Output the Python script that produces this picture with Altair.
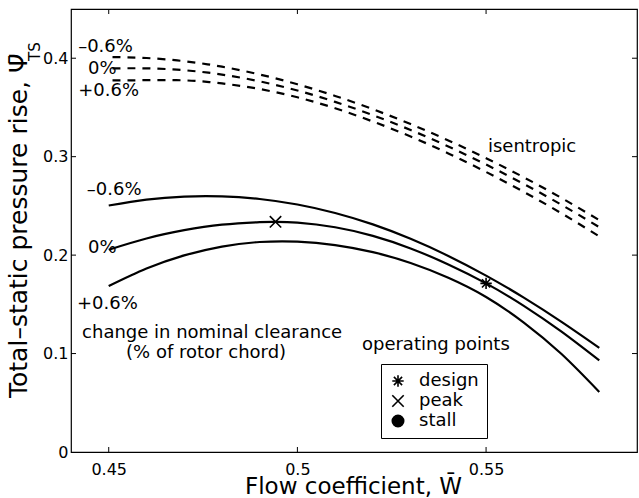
import altair as alt
import pandas as pd

FONT = "DejaVu Sans"

# Total-static pressure rise characteristics for three clearance changes
phi = [0.45, 0.46, 0.47, 0.48, 0.49, 0.50, 0.51, 0.52, 0.53, 0.54, 0.55, 0.56, 0.57, 0.58]
neg_psi = [0.2504, 0.2564, 0.2595, 0.2597, 0.2570, 0.2514, 0.2428, 0.2312, 0.2166, 0.1992,
           0.1792, 0.1568, 0.1322, 0.1058]
pos_psi = [0.1685, 0.1863, 0.1997, 0.2087, 0.2133, 0.2137, 0.2102, 0.2030, 0.1920, 0.1770,
           0.1575, 0.1315, 0.0995, 0.0610]

zero_x = [0.45, 0.46, 0.47, 0.48, 0.49, 0.4942, 0.50, 0.51, 0.52, 0.53, 0.54, 0.55, 0.56, 0.57, 0.58]
zero_psi = [0.2055, 0.2169, 0.2253, 0.2309, 0.2335, 0.2338, 0.2330, 0.2283, 0.2195, 0.2068,
            0.1905, 0.1713, 0.1485, 0.1222, 0.0930]

# Isentropic pressure rise for the same clearance changes
iso_x = [0.451, 0.46, 0.47, 0.48, 0.49, 0.50, 0.51, 0.52, 0.53, 0.54, 0.55, 0.56, 0.57, 0.58]
iso_neg = [0.4012, 0.4002, 0.3970, 0.3914, 0.3835, 0.3735, 0.3617, 0.3482, 0.3331, 0.3165,
           0.2985, 0.2790, 0.2580, 0.2355]
iso_zero = [0.3897, 0.3897, 0.3878, 0.3834, 0.3765, 0.3672, 0.3557, 0.3422, 0.3271, 0.3103,
            0.2920, 0.2723, 0.2511, 0.2284]
iso_pos = [0.3774, 0.3777, 0.3775, 0.3744, 0.3687, 0.3603, 0.3492, 0.3357, 0.3205, 0.3033,
           0.2845, 0.2642, 0.2424, 0.2190]

# Operating points on the nominal-clearance characteristic
op_names = ["design", "peak"]
op_x = [0.55, 0.4942]
op_psi = [0.1713, 0.2338]
op_legend = ["design", "peak", "stall"]

x_ticks = [0.45, 0.5, 0.55]
y_ticks = [0, 0.1, 0.2, 0.3, 0.4]

W, H = 566, 443
X_DOM = [0.44, 0.59]
Y_DOM = [0, 0.45]


def curve_frame(xs, ys, name):
    return pd.DataFrame({"phi": xs, "psi": ys, "curve": name})


solid = pd.concat([
    curve_frame(phi, neg_psi, "-0.6%"),
    curve_frame(zero_x, zero_psi, "0%"),
    curve_frame(phi, pos_psi, "+0.6%"),
])
dashed = pd.concat([
    curve_frame(iso_x, iso_neg, "-0.6%"),
    curve_frame(iso_x, iso_zero, "0%"),
    curve_frame(iso_x, iso_pos, "+0.6%"),
])
ops = pd.DataFrame({"phi": op_x, "psi": op_psi, "op": op_names})

xs = alt.Scale(domain=X_DOM, nice=False, zero=False)
ys = alt.Scale(domain=Y_DOM, nice=False, zero=False)

x_enc = alt.X("phi:Q", scale=xs, title=None,
              axis=alt.Axis(values=x_ticks, format=".2~f", labelPadding=9))
y_enc = alt.Y("psi:Q", scale=ys, title=None,
              axis=alt.Axis(values=y_ticks, format=".1~f", labelPadding=3))

base_lines = alt.Chart(solid).mark_line(
    color="black", strokeWidth=2.2, interpolate="natural"
).encode(x=x_enc, y=y_enc, detail="curve:N")

iso_lines = alt.Chart(dashed).mark_line(
    color="black", strokeWidth=2.2, strokeDash=[8, 7], interpolate="natural"
).encode(x=alt.X("phi:Q", scale=xs), y=alt.Y("psi:Q", scale=ys), detail="curve:N")

ASTERISK = "M0,-1L0,1M-1,0L1,0M-0.72,-0.72L0.72,0.72M-0.72,0.72L0.72,-0.72"
CROSS = "M-1,-1L1,1M-1,1L1,-1"

points = alt.Chart(ops).mark_point(
    color="black", strokeWidth=1.6, size=130, opacity=1
).encode(
    x=alt.X("phi:Q", scale=xs),
    y=alt.Y("psi:Q", scale=ys),
    shape=alt.Shape(
        "op:N",
        scale=alt.Scale(domain=op_legend, range=[ASTERISK, CROSS, "circle"]),
        legend=alt.Legend(
            title=None, orient="none", legendX=310, legendY=355,
            strokeColor="black", fillColor="white", padding=8,
            labelFont=FONT, labelFontSize=18, labelColor="black",
            labelOffset=12, rowPadding=2, symbolSize=130,
            symbolStrokeWidth=1.6, symbolStrokeColor="black",
        ),
    ),
    fill=alt.Fill(
        "op:N",
        scale=alt.Scale(domain=op_legend, range=["transparent", "transparent", "black"]),
    ),
    stroke=alt.Stroke(
        "op:N",
        scale=alt.Scale(domain=op_legend, range=["black", "black", "black"]),
    ),
)

# Inward tick marks on all four sides of the frame
ytk = pd.DataFrame({"v": y_ticks[1:]})
xtk = pd.DataFrame({"v": x_ticks})
tick_left = alt.Chart(ytk).mark_rule(color="black").encode(
    y=alt.Y("v:Q", scale=ys), x=alt.value(0), x2=alt.value(5))
tick_right = alt.Chart(ytk).mark_rule(color="black").encode(
    y=alt.Y("v:Q", scale=ys), x=alt.value(W), x2=alt.value(W - 5))
tick_bottom = alt.Chart(xtk).mark_rule(color="black").encode(
    x=alt.X("v:Q", scale=xs), y=alt.value(H), y2=alt.value(H - 5))
tick_top = alt.Chart(xtk).mark_rule(color="black").encode(
    x=alt.X("v:Q", scale=xs), y=alt.value(0), y2=alt.value(5))

# Curve labels and annotations
notes_left = pd.DataFrame({
    "t": ["\u20130.6%", "0%", "+0.6%", "\u20130.6%", "0%", "+0.6%", "isentropic"],
    "phi": [0.4419, 0.4445, 0.4419, 0.4442, 0.4445, 0.4416, 0.5505],
    "psi": [0.4111, 0.3892, 0.3669, 0.2663, 0.2073, 0.1504, 0.310],
})
notes_center = pd.DataFrame({
    "t": ["change in nominal clearance", "(% of rotor chord)", "operating points"],
    "phi": [0.4774, 0.4758, 0.5367],
    "psi": [0.1209, 0.1006, 0.1087],
})
text_left = alt.Chart(notes_left).mark_text(
    font=FONT, fontSize=18, align="left", baseline="middle", color="black"
).encode(x=alt.X("phi:Q", scale=xs), y=alt.Y("psi:Q", scale=ys), text="t:N")
text_center = alt.Chart(notes_center).mark_text(
    font=FONT, fontSize=18, align="center", baseline="middle", color="black"
).encode(x=alt.X("phi:Q", scale=xs), y=alt.Y("psi:Q", scale=ys), text="t:N")

# Axis titles
y_title = alt.Chart(pd.DataFrame({"t": ["Total\u2013static pressure rise, \u03a8\u0304"]})).mark_text(
    font=FONT, fontSize=25, angle=270, align="left", baseline="middle", color="black"
).encode(text="t:N", x=alt.value(-52), y=alt.value(389))
y_sub = alt.Chart(pd.DataFrame({"t": ["TS"]})).mark_text(
    font=FONT, fontSize=15, angle=270, align="left", baseline="middle", color="black"
).encode(text="t:N", x=alt.value(-36), y=alt.value(52))
x_title = alt.Chart(pd.DataFrame({"t": ["Flow coefficient,  W\u0304"]})).mark_text(
    font=FONT, fontSize=23, align="center", baseline="alphabetic", color="black"
).encode(text="t:N", x=alt.value(282.5), y=alt.value(485))

chart = alt.layer(
    base_lines, iso_lines, points,
    tick_left, tick_right, tick_bottom, tick_top,
    text_left, text_center, y_title, y_sub, x_title,
).properties(
    width=W, height=H,
    autosize=alt.AutoSizeParams(type="none"),
    padding={"left": 71, "top": 9, "right": 2, "bottom": 46},
    background="white",
).configure_view(
    stroke="black", strokeWidth=1.2
).configure_axis(
    grid=False, domain=False, ticks=False, tickSize=0,
    labelFont=FONT, labelFontSize=16, labelColor="black",
)

chart.save("out.html", embed_options={"renderer": "svg", "actions": False})
